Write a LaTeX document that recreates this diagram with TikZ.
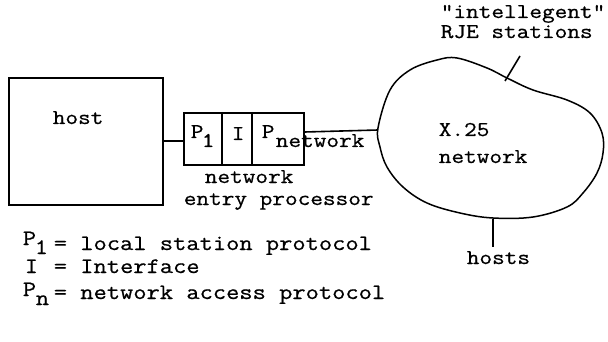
\documentclass[tikz,border=0pt]{standalone}
\usepackage{fontspec}
\newfontfamily\tw{Latin Modern Mono}[FakeStretch=1.17, FakeBold=0.7]
\begin{document}
\begin{tikzpicture}[x=1pt,y=-1pt,
  font=\tw\fontsize{21}{21}\selectfont,
  line width=1.6pt,
  txt/.style={inner sep=0pt, anchor=base west},
  leg/.style={inner sep=0pt, anchor=base west, font=\tw\fontsize{22}{22}\selectfont},
  boxshape/.style={draw, anchor=north west, inner sep=0pt}]
\useasboundingbox (0,0) rectangle (608,342);
% host
\node (host) [boxshape, minimum width=154pt, minimum height=127pt] at (8,77) {};
\node (hostlbl) [txt] at (52,124) {host};
% network entry processor
\node (nep) [boxshape, minimum width=120pt, minimum height=52pt] at (183,112) {};
\draw (222,112) -- (222,164);
\draw (252,112) -- (252,164);
\node (p1) [txt] at (190,138) {P};
\node (p1s) [txt] at (201,147) {1};
\node (iface) [txt] at (231,140) {I};
\node (pn) [txt] at (261,138) {P};
\node (pns) [txt] at (275,147) {network};
\draw (host.east |- 0,141) -- (nep.west |- 0,141);
% labels under box
\node (nepl1) [txt] at (204,183) {network};
\node (nepl2) [txt] at (183,205) {entry processor};
% cloud
\coordinate (cl) at (378,130);
\draw[line width=1.5pt] plot[smooth cycle, tension=0.6] coordinates {(378,128) (390,90) (410,70) (437,60) (457,58) (487,68) (507,78) (533,90) (567,100) (590,113) (602,133) (603,153) (597,173) (583,193) (567,207) (533,217) (493,218) (460,213) (427,203) (403,187) (387,167) (380,147)};
\draw (nep.east |- 0,132) -- (cl);
\node (x25) [txt] at (438,136) {X.25};
\node (netw) [txt] at (438,163) {network};
% RJE stations
\node (rje1) [txt] at (440,18) {"intellegent"};
\node (rje2) [txt] at (440,38) {RJE stations};
\coordinate (ra) at (520,56);
\coordinate (rb) at (505,81);
\draw (ra) -- (rb);
% hosts
\coordinate (ha) at (493,219);
\coordinate (hb) at (493,247);
\draw (ha) -- (hb);
\node (hosts) [txt] at (466,264) {hosts};
% legend
\node (l1p) [leg] at (22,245) {P};
\node (l1s) [leg] at (34,254) {1};
\node (l1t) [leg] at (53,250) {= local station protocol};
\node (l2p) [leg] at (24,273) {I};
\node (l2t) [leg] at (53,273) {= Interface};
\node (l3p) [leg] at (22,296) {P};
\node (l3s) [leg] at (35,305) {n};
\node (l3t) [leg] at (53,299) {= network access protocol};
\end{tikzpicture}
\end{document}
